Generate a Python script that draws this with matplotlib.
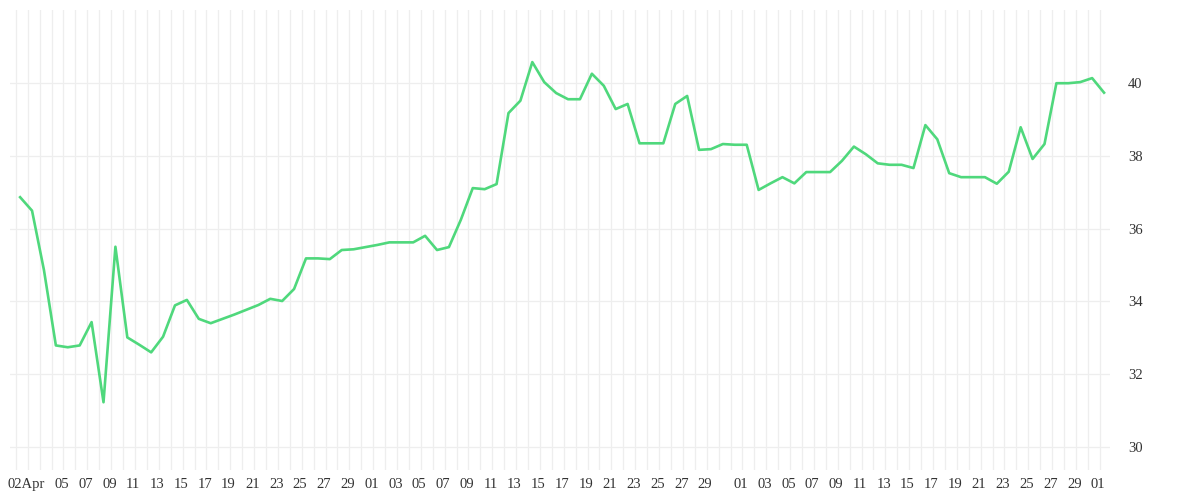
import numpy as np
import matplotlib.pyplot as plt

# daily values, 02 Apr .. 02 Jul
values = [36.86, 36.49, 34.86, 32.79, 32.74, 32.79, 33.43, 31.23, 35.50, 33.01,
          32.81, 32.60, 33.03, 33.89, 34.04, 33.52, 33.40, 33.52, 33.64, 33.77,
          33.90, 34.07, 34.01, 34.34, 35.18, 35.18, 35.16, 35.41, 35.43,
          35.49, 35.55, 35.62, 35.62, 35.62, 35.80, 35.41, 35.49, 36.24, 37.11,
          37.08, 37.22, 39.17, 39.51, 40.57, 40.02, 39.72, 39.55, 39.55, 40.25,
          39.92, 39.28, 39.42, 38.34, 38.34, 38.34, 39.42, 39.64, 38.16, 38.18,
          38.32,
          38.30, 38.30, 37.06, 37.24, 37.41, 37.24, 37.55, 37.55, 37.55, 37.86,
          38.25, 38.04, 37.79, 37.75, 37.75, 37.66, 38.84, 38.45, 37.52, 37.41,
          37.41, 37.41, 37.23, 37.56, 38.78, 37.91, 38.32, 39.99, 39.99, 40.02,
          40.13, 39.73]

# day index -> label (0 = 02 Apr, 29 = 01 May, 60 = 01 Jun, 90 = 01 Jul)
tick_days = [0] + list(range(3, 28, 2)) + list(range(29, 58, 2)) + list(range(60, 89, 2)) + [90]
tick_labels = (["02Apr"] + ["%02d" % d for d in range(5, 30, 2)]
               + ["%02d" % d for d in range(1, 30, 2)]
               + ["%02d" % d for d in range(1, 30, 2)] + ["01"])
y_ticks = [30, 32, 34, 36, 38, 40]

x = np.arange(len(values))

fig = plt.figure(figsize=(12, 5), dpi=100)
ax = fig.add_axes([10 / 1200, 30 / 500, 1100 / 1200, 460 / 500])

# daily vertical gridlines
for d in np.arange(-0.36, 92, 1.0):
    ax.axvline(d, color="#eeeeee", lw=0.9, zorder=0)
ax.grid(axis="y", color="#eeeeee", lw=0.9)

ax.plot(x, values, color="#4fd87c", lw=1.9, zorder=3)

ax.set_xlim(-0.85, 91.5)
ax.set_ylim(29.37, 42.0)
ax.set_xticks(np.array(tick_days) + 0.5)
ax.set_xticklabels(tick_labels, family="Liberation Serif", fontsize=10.5, color="#333333")
ax.set_yticks(y_ticks)
ax.set_yticklabels([str(v) for v in y_ticks], family="Liberation Serif", fontsize=10.5, color="#333333")
ax.yaxis.tick_right()
ax.tick_params(axis="both", length=0)
ax.tick_params(axis="y", pad=13)
ax.tick_params(axis="x", pad=6)
for s in ax.spines.values():
    s.set_visible(False)

fig.savefig("out.png", dpi=100)
